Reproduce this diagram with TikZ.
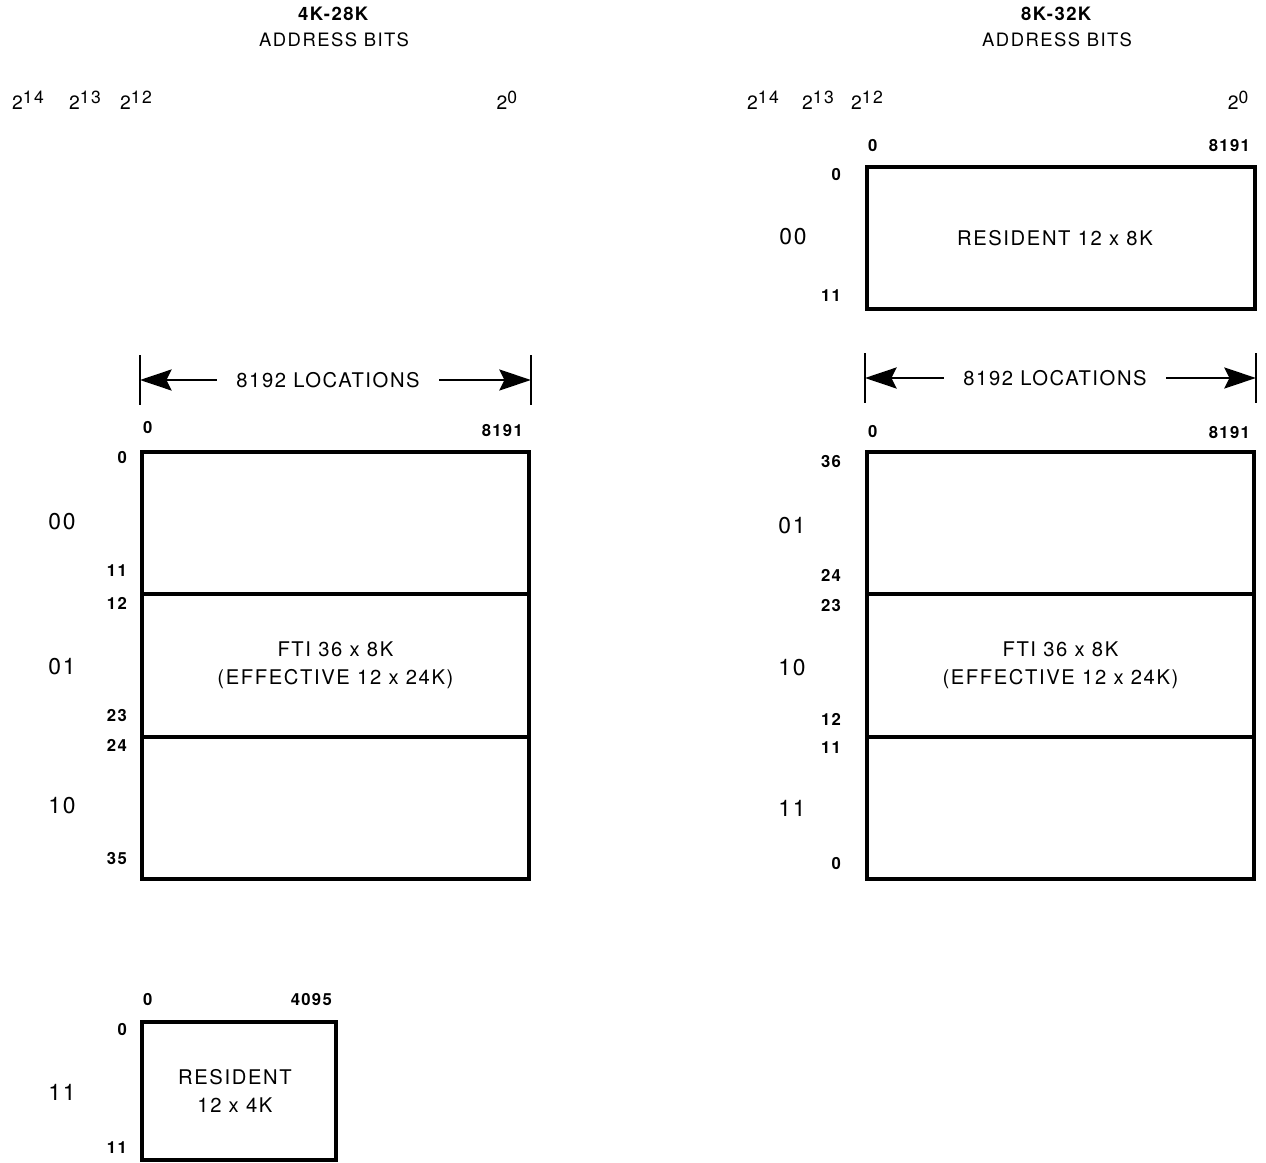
\documentclass[tikz,border=0pt]{standalone}
\usepackage{fontspec}
\setmainfont{TeX Gyre Heros}[LetterSpace=8]
\usetikzlibrary{arrows.meta,positioning,calc}
\newcommand{\pw}[1]{2\raisebox{0.32em}{\fontsize{10}{10}\selectfont#1}}

\begin{document}
\begin{tikzpicture}[
    mem/.style={draw,line width=2.2pt,anchor=north west,inner sep=0pt},
    divider/.style={line width=2.2pt},
    addr/.style={font=\fontsize{9.5}{10}\selectfont\bfseries,inner sep=1pt},
    bits/.style={font=\fontsize{13}{15}\selectfont},
    content/.style={font=\fontsize{11.5}{15.9}\selectfont,align=center},
    head/.style={font=\fontsize{10.5}{14.7}\selectfont,align=center},
    power/.style={font=\fontsize{11}{12}\selectfont},
    dimtext/.style={font=\fontsize{11.5}{14}\selectfont,inner xsep=11pt},
    dimarrow/.style={-{Stealth[length=18pt,width=12pt,inset=3pt]},line width=1.4pt},
    dimtick/.style={line width=1.3pt}
  ]
  \useasboundingbox (0,0) rectangle (25.32,-23.24);

  % ---- left half: 4K-28K
  \node[head] (hdL) at (6.68,-0.54) {\textbf{4K-28K}\\ADDRESS BITS};
  \node[power] (pL14) at (0.56,-2.0) {\pw{14}};
  \node[power] (pL13) at (1.70,-2.0) {\pw{13}};
  \node[power] (pL12) at (2.72,-2.0) {\pw{12}};
  \node[power] (pL0) at (10.14,-2.0) {\pw{0}};

  \node[mem,minimum width=7.74cm,minimum height=8.54cm] (ftiL) at (2.8,-9.0) {};
  \draw[divider] ($(ftiL.north west)!1/3!(ftiL.south west)$) -- ($(ftiL.north east)!1/3!(ftiL.south east)$);
  \draw[divider] ($(ftiL.north west)!2/3!(ftiL.south west)$) -- ($(ftiL.north east)!2/3!(ftiL.south east)$);
  \node[content] (ftiLtxt) at (ftiL.center) {FTI 36 x 8K\\(EFFECTIVE 12 x 24K)};

  \node[dimtext] (locL) at (6.56,-7.6) {8192 LOCATIONS};
  \coordinate (dimLa) at (ftiL.west |- locL);
  \coordinate (dimLb) at (ftiL.east |- locL);
  \draw[dimtick] ($(dimLa)+(0,0.5)$) -- ($(dimLa)-(0,0.5)$);
  \draw[dimtick] ($(dimLb)+(0,0.5)$) -- ($(dimLb)-(0,0.5)$);
  \draw[dimarrow] (locL.west) -- (dimLa);
  \draw[dimarrow] (locL.east) -- (dimLb);

  \node[addr,anchor=west] (cLa) at (2.82,-8.56) {0};
  \node[addr,anchor=east] (cLb) at (10.5,-8.62) {8191};
  \foreach \t/\y in {0/-9.16,11/-11.42,12/-12.06,23/-14.32,24/-14.9,35/-17.18}
    \node[addr,anchor=east] (rowL\t) at (2.58,\y) {\t};
  \foreach \t/\y in {00/-10.44,01/-13.34,10/-16.12}
    \node[bits] (bitL\t) at (1.24,\y) {\t};

  \node[mem,minimum width=3.88cm,minimum height=2.76cm] (resL) at (2.8,-20.4) {};
  \node[content] (resLtxt) at ($(resL.center)+(-0.08,0)$) {RESIDENT\\12 x 4K};
  \node[addr,anchor=west] (cRLa) at (2.82,-20.0) {0};
  \node[addr,anchor=east] (cRLb) at (6.68,-20.0) {4095};
  \node[addr,anchor=east] (rowRL0) at (2.58,-20.6) {0};
  \node[addr,anchor=east] (rowRL11) at (2.58,-22.96) {11};
  \node[bits] (bitL11) at (1.24,-21.84) {11};

  % ---- right half: 8K-32K
  \node[head] (hdR) at (21.14,-0.54) {\textbf{8K-32K}\\ADDRESS BITS};
  \node[power] (pR14) at (15.26,-2.0) {\pw{14}};
  \node[power] (pR13) at (16.36,-2.0) {\pw{13}};
  \node[power] (pR12) at (17.34,-2.0) {\pw{12}};
  \node[power] (pR0) at (24.76,-2.0) {\pw{0}};

  \node[mem,minimum width=7.76cm,minimum height=2.84cm] (resR) at (17.3,-3.3) {};
  \node[content] (resRtxt) at ($(resR.center)+(-0.12,0)$) {RESIDENT 12 x 8K};
  \node[addr,anchor=west] (cRRa) at (17.32,-2.92) {0};
  \node[addr,anchor=east] (cRRb) at (25.04,-2.92) {8191};
  \node[addr,anchor=east] (rowRR0) at (16.86,-3.5) {0};
  \node[addr,anchor=east] (rowRR11) at (16.86,-5.92) {11};
  \node[bits] (bitR00) at (15.86,-4.74) {00};

  \node[mem,minimum width=7.74cm,minimum height=8.54cm] (ftiR) at (17.3,-9.0) {};
  \draw[divider] ($(ftiR.north west)!1/3!(ftiR.south west)$) -- ($(ftiR.north east)!1/3!(ftiR.south east)$);
  \draw[divider] ($(ftiR.north west)!2/3!(ftiR.south west)$) -- ($(ftiR.north east)!2/3!(ftiR.south east)$);
  \node[content] (ftiRtxt) at (ftiR.center) {FTI 36 x 8K\\(EFFECTIVE 12 x 24K)};

  \node[dimtext] (locR) at (21.1,-7.56) {8192 LOCATIONS};
  \coordinate (dimRa) at (ftiR.west |- locR);
  \coordinate (dimRb) at (ftiR.east |- locR);
  \draw[dimtick] ($(dimRa)+(0,0.5)$) -- ($(dimRa)-(0,0.5)$);
  \draw[dimtick] ($(dimRb)+(0,0.5)$) -- ($(dimRb)-(0,0.5)$);
  \draw[dimarrow] (locR.west) -- (dimRa);
  \draw[dimarrow] (locR.east) -- (dimRb);

  \node[addr,anchor=west] (cRa) at (17.32,-8.64) {0};
  \node[addr,anchor=east] (cRb) at (25.04,-8.66) {8191};
  \foreach \t/\y in {36/-9.24,24/-11.5,23/-12.12,12/-14.38,11/-14.96,0/-17.28}
    \node[addr,anchor=east] (rowR\t) at (16.86,\y) {\t};
  \foreach \t/\y in {01/-10.52,10/-13.36,11/-16.16}
    \node[bits] (bitR\t) at (15.84,\y) {\t};
\end{tikzpicture}
\end{document}
